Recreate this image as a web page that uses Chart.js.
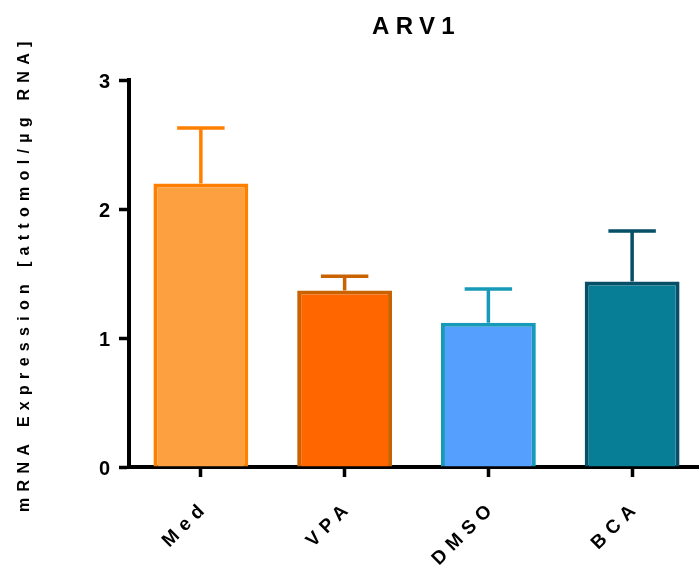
<!DOCTYPE html>
<html>
<head>
<meta charset="utf-8">
<script src="https://cdn.jsdelivr.net/npm/chart.js@4"></script>
<style>
  html, body { margin: 0; padding: 0; background: #fff; overflow: hidden; }
  canvas { display: block; }
</style>
</head>
<body>
<canvas id="chart" width="704" height="566"></canvas>
<script>
// Group means and SEM for ARV1 expression
const categories = ['Med', 'VPA', 'DMSO', 'BCA'];
const meanValues = [2.20, 1.37, 1.12, 1.44];
const semValues = [0.43, 0.11, 0.26, 0.39];
const yTicks = [0, 1, 2, 3];

const fillColors = ['#FDA040', '#FF6600', '#559FFF', '#087E96'];
const edgeColors = ['#FF8000', '#C96200', '#1799B8', '#064F66'];

const FONT = "'Liberation Sans', Arial, Helvetica, sans-serif";
const SPACING = '6.3px';

// Wide letter spacing for all canvas text
const letterSpacing = {
  id: 'letterSpacing',
  beforeUpdate(chart) { chart.ctx.letterSpacing = SPACING; },
  beforeDraw(chart) { chart.ctx.letterSpacing = SPACING; }
};

// Upper error bars (mean + SEM) with caps
const errorBars = {
  id: 'errorBars',
  afterDatasetsDraw(chart) {
    const ctx = chart.ctx;
    const yScale = chart.scales.y;
    chart.getDatasetMeta(0).data.forEach((bar, i) => {
      const top = yScale.getPixelForValue(meanValues[i] + semValues[i]);
      const half = bar.width / 4;
      ctx.save();
      ctx.strokeStyle = edgeColors[i];
      ctx.lineWidth = 3.5;
      ctx.lineCap = 'butt';
      ctx.beginPath();
      ctx.moveTo(bar.x, bar.y);
      ctx.lineTo(bar.x, top);
      ctx.moveTo(bar.x - half, top);
      ctx.lineTo(bar.x + half, top);
      ctx.stroke();
      ctx.restore();
    });
  }
};

new Chart(document.getElementById('chart'), {
  type: 'bar',
  data: {
    labels: categories,
    datasets: [{
      data: meanValues,
      backgroundColor: fillColors,
      borderColor: edgeColors,
      borderWidth: 4,
      borderSkipped: 'start',
      barPercentage: 0.66,
      categoryPercentage: 1.0
    }]
  },
  options: {
    responsive: false,
    devicePixelRatio: 1,
    animation: false,
    layout: { padding: 0 },
    plugins: {
      legend: { display: false },
      tooltip: { enabled: false },
      title: {
        display: true,
        text: 'ARV1',
        fullSize: false,
        color: '#000',
        font: { family: FONT, size: 24, weight: 'bold', lineHeight: 1.2 },
        padding: { top: 12.5, bottom: 39 }
      }
    },
    scales: {
      x: {
        offset: true,
        afterFit(scale) { scale.height = 99; },
        grid: {
          offset: false,
          drawOnChartArea: false,
          drawTicks: true,
          tickLength: 10,
          tickWidth: 3.5,
          tickColor: '#000'
        },
        border: { display: true, width: 4, color: '#000' },
        ticks: {
          autoSkip: false,
          minRotation: 45,
          maxRotation: 45,
          padding: 19,
          labelOffset: 5,
          color: '#000',
          font: { family: FONT, size: 19, weight: 'bold' }
        }
      },
      y: {
        min: yTicks[0],
        max: yTicks[yTicks.length - 1],
        afterBuildTicks(scale) { scale.ticks = yTicks.map(v => ({ value: v })); },
        afterFit(scale) { scale.width = 129; },
        grid: {
          drawOnChartArea: false,
          drawTicks: true,
          tickLength: 10,
          tickWidth: 3.5,
          tickColor: '#000'
        },
        border: { display: true, width: 4, color: '#000' },
        ticks: {
          padding: 2.5,
          labelOffset: 2,
          color: '#000',
          font: { family: FONT, size: 20, weight: 'bold' }
        },
        title: {
          display: true,
          text: 'mRNA Expression [attomol/µg RNA]',
          color: '#000',
          font: { family: FONT, size: 16, weight: 'bold', lineHeight: 1.2 },
          padding: { top: 15, bottom: 0 }
        }
      }
    }
  },
  plugins: [letterSpacing, errorBars]
});
</script>
</body>
</html>
